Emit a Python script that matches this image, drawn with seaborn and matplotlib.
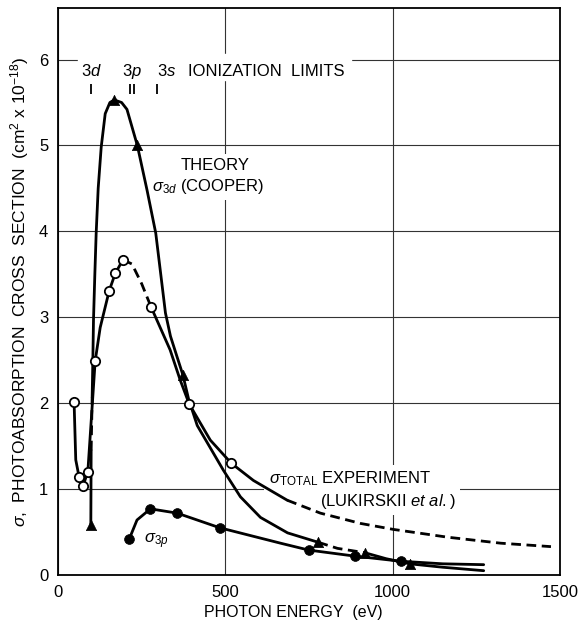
import matplotlib
matplotlib.use('Agg')
import matplotlib.pyplot as plt
import seaborn as sns

# sigma_3d theory (Cooper): points
th3d_energy = [98, 99, 102, 104, 106, 110, 114, 120, 129, 141, 155, 168, 190, 206, 237, 266, 292,
               307, 321, 336, 354, 373, 390, 416, 476, 494, 545, 605, 686, 778, 835, 916, 980, 1051, 1150, 1272]
th3d_sigma = [0.58, 1.45, 2.07, 2.49, 2.97, 3.5, 3.98, 4.5, 4.98, 5.37, 5.50, 5.53, 5.50, 5.42, 5.0, 4.48, 3.98,
              3.5, 3.05, 2.78, 2.56, 2.33, 2.05, 1.74, 1.34, 1.22, 0.91, 0.67, 0.49, 0.38, 0.31, 0.26, 0.19, 0.13, 0.09, 0.05]
th3d_pts_energy = [98, 168, 237, 373, 778, 916, 1051]
th3d_pts_sigma = [0.58, 5.53, 5.0, 2.33, 0.38, 0.26, 0.13]

# sigma_3p theory
th3p_energy = [213, 236, 276, 356, 483, 584, 665, 749, 886, 1024, 1150, 1272]
th3p_sigma = [0.42, 0.64, 0.77, 0.72, 0.55, 0.45, 0.37, 0.29, 0.22, 0.16, 0.13, 0.12]
th3p_pts_energy = [213, 276, 356, 483, 749, 886, 1024]
th3p_pts_sigma = [0.42, 0.77, 0.72, 0.55, 0.29, 0.22, 0.16]

# sigma_total experiment (Lukirskii et al.)
tot_energy = [48, 53, 63, 74, 89, 111, 126, 153, 171, 194, 221, 250, 278, 335, 365, 392, 455, 518,
              584, 685, 784, 904, 1003, 1164, 1323, 1473]
tot_sigma = [2.01, 1.34, 1.14, 1.03, 1.20, 2.49, 2.88, 3.31, 3.51, 3.67, 3.62, 3.39, 3.12, 2.62, 2.27, 1.99,
             1.57, 1.30, 1.10, 0.87, 0.72, 0.60, 0.53, 0.44, 0.37, 0.33]
tot_pts_energy = [48, 63, 74, 89, 111, 153, 171, 194, 278, 392, 518]
tot_pts_sigma = [2.01, 1.14, 1.03, 1.20, 2.49, 3.31, 3.51, 3.67, 3.12, 1.99, 1.30]

# ionization limits (eV)
limit_energy = [99, 214, 228, 295]

sns.set_style('white')
plt.rcParams['font.family'] = ['Liberation Sans', 'DejaVu Sans']
plt.rcParams['mathtext.fontset'] = 'custom'
plt.rcParams['mathtext.rm'] = 'Liberation Sans'
plt.rcParams['mathtext.it'] = 'Liberation Sans:italic'
plt.rcParams['mathtext.bf'] = 'Liberation Sans:bold'
for k in ['text.color', 'axes.labelcolor', 'xtick.color', 'ytick.color']:
    plt.rcParams[k] = 'black'

fig = plt.figure(figsize=(5.82, 6.26), dpi=100)
ax = fig.add_axes([0.0997, 0.0815, 0.8625, 0.9057])

SOLID = '-'
DASH = (0, (3.5, 2))


def trace(e, s, pieces):
    # pieces: (first index, last index, linestyle)
    for i0, i1, ls in pieces:
        sns.lineplot(x=e[i0:i1 + 1], y=s[i0:i1 + 1], sort=False, estimator=None,
                     color='black', lw=2, linestyle=ls, ax=ax, zorder=3)


trace(th3d_energy, th3d_sigma, [(0, 1, SOLID), (1, 2, DASH), (2, 29, SOLID),
                                (29, 31, DASH), (31, 35, SOLID)])
trace(th3p_energy, th3p_sigma, [(0, 11, SOLID)])
trace(tot_energy, tot_sigma, [(0, 9, SOLID), (9, 12, DASH), (12, 19, SOLID), (19, 25, DASH)])

sns.scatterplot(x=th3d_pts_energy, y=th3d_pts_sigma, marker='^', s=55, color='black',
                edgecolor='black', linewidth=0.5, ax=ax, zorder=5)
sns.scatterplot(x=th3p_pts_energy, y=th3p_pts_sigma, marker='o', s=50, color='black',
                edgecolor='black', linewidth=0.5, ax=ax, zorder=5)
sns.scatterplot(x=tot_pts_energy, y=tot_pts_sigma, marker='o', s=45, color='white',
                edgecolor='black', linewidth=1.3, ax=ax, zorder=5)

# ionization limit marks
ax.vlines(limit_energy, 5.60, 5.72, color='black', lw=1.3, zorder=4)
ax.axhspan(5.76, 6.07, xmin=60 / 1500, xmax=875 / 1500, color='white', zorder=1)
fs = 12
ax.text(69, 5.81, '3$d$', fontsize=fs, zorder=2.5)
ax.text(192, 5.81, '3$p$', fontsize=fs, zorder=2.5)
ax.text(296, 5.81, '3$s$', fontsize=fs, zorder=2.5)
ax.text(389, 5.81, 'IONIZATION  LIMITS', fontsize=fs, zorder=2.5)

box = dict(facecolor='white', edgecolor='none', pad=3)
ax.text(365, 4.71, 'THEORY', fontsize=fs, bbox=box, zorder=2.5)
ax.text(280, 4.47, r'$\sigma_{3d}$ (COOPER)', fontsize=fs, bbox=box, zorder=2.5)
ax.text(258, 0.37, r'$\sigma_{3p}$', fontsize=fs, zorder=2.5)
ax.text(629, 1.07, r'$\sigma_{\mathrm{TOTAL}}$ EXPERIMENT', fontsize=fs, bbox=box, zorder=2.5)
ax.text(784, 0.80, r'(LUKIRSKII $et\ al.$)', fontsize=fs, bbox=box, zorder=2.5)

ax.set_xlim(0, 1500)
ax.set_ylim(0, 6.6)
ax.set_xticks([0, 500, 1000, 1500])
ax.set_yticks([0, 1, 2, 3, 4, 5, 6])
ax.tick_params(length=0, pad=7, labelsize=12)
ax.set_axisbelow(True)
ax.grid(True, color='#333333', lw=0.8)
for sp in ax.spines.values():
    sp.set_color('black')
    sp.set_linewidth(1.3)

ax.set_xlabel('PHOTON ENERGY  (eV)', fontsize=11.5, x=0.468, labelpad=4)
ax.set_ylabel(r'$\sigma$,  PHOTOABSORPTION  CROSS  SECTION  (cm$^2$ x 10$^{-18}$)', fontsize=12.5, labelpad=6)

fig.savefig('out.png', dpi=100)
